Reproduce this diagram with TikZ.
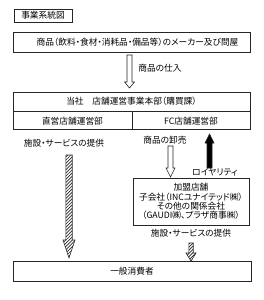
\documentclass[tikz,border=0pt]{standalone}
\usepackage{fontspec}
\setmainfont{Noto Sans CJK JP}[RawFeature=+palt]
\usetikzlibrary{positioning}

\begin{document}
\begin{tikzpicture}[
		x=1pt, y=-1pt,
		font=\fontsize{8.7}{9.4}\selectfont,
		b/.style = {rectangle,	draw=black!85,	line width=0.8pt,	inner sep=0pt},
		l/.style = {inner sep=1pt},
		ar/.style = {draw=black!85,	line width=0.6pt,	line join=miter},
		ho/.style = {ar,	fill=white},
		bl/.style = {ar,	fill=black},
		hl/.style = {black!85,	line width=0.7pt}
		]
		\useasboundingbox (0,0) rectangle (263,300);
		
		%Boxes
		\node[b, minimum width=58, minimum height=13]	(title)	at	(43, 15.5)	{事業系統図};
		\node[b, minimum width=237, minimum height=20]	(maker)	at	(131.5, 42)	{\hspace{12pt}商品（飲料・食材・消耗品・備品等）のメーカー及び問屋};
		\node[b, minimum width=237, minimum height=19]	(hq)	at	(131.5, 101.5)	{当社　店舗運営事業本部（購買課）};
		\node[b, minimum width=119, minimum height=18, anchor=north west]	(direct)	at	(hq.south west)	{直営店舗運営部};
		\node[b, minimum width=118, minimum height=18, anchor=north east]	(fc)	at	(hq.south east)	{FC店舗運営部};
		\node[b, minimum width=116, minimum height=47, align=center]	(member)	at	(191, 201.5)
			{加盟店舗\\子会社（INCユナイテッド㈱）\\その他の関係会社\\（GAUDI㈱、プラザ商事㈱）};
		\node[b, minimum width=238, minimum height=20]	(user)	at	(132, 271)	{一般消費者};
		
		%Labels
		\node[l]	(buyl)	at	(160, 68)	{商品の仕入};
		\node[l]	(svc1l)	at	(64, 143)	{施設・サービスの提供};
		\node[l]	(selll)	at	(165, 140)	{商品の卸売};
		\node[l]	(royl)	at	(215, 172)	{ロイヤリティ};
		\node[l]	(svc2l)	at	(191, 233)	{施設・サービスの提供};
		
		%Arrows
		\draw[ho]	(127, 55) -- (132, 55) -- (132, 82) -- (134.5, 82) -- (129.5, 88) -- (124.5, 82) -- (127, 82) -- cycle;
		\draw[ho]	(168, 146) -- (173, 146) -- (173, 168) -- (175, 168) -- (170.5, 177) -- (166, 168) -- (168, 168) -- cycle;
		\draw[bl]	(207, 168) -- (212, 168) -- (212, 143) -- (214, 143) -- (209.5, 134) -- (205, 143) -- (207, 143) -- cycle;
		
		\begin{scope}
			\clip	(65.8, 155) -- (72.2, 155) -- (72.2, 240) -- (75, 240) -- (69, 258) -- (63, 240) -- (65.8, 240) -- cycle;
			\foreach \i in {150, 153.2, ..., 280}
				\draw[hl]	(60, \i) -- (80, \i-20);
		\end{scope}
		\draw[ar]	(65.8, 155) -- (72.2, 155) -- (72.2, 240) -- (75, 240) -- (69, 258) -- (63, 240) -- (65.8, 240) -- cycle;
		
		\begin{scope}
			\clip	(188.8, 243) -- (193.2, 243) -- (193.2, 253) -- (196, 253) -- (191, 261) -- (186, 253) -- (188.8, 253) -- cycle;
			\foreach \i in {240, 243.2, ..., 285}
				\draw[hl]	(180, \i) -- (200, \i-20);
		\end{scope}
		\draw[ar]	(188.8, 243) -- (193.2, 243) -- (193.2, 253) -- (196, 253) -- (191, 261) -- (186, 253) -- (188.8, 253) -- cycle;
	\end{tikzpicture}
\end{document}
